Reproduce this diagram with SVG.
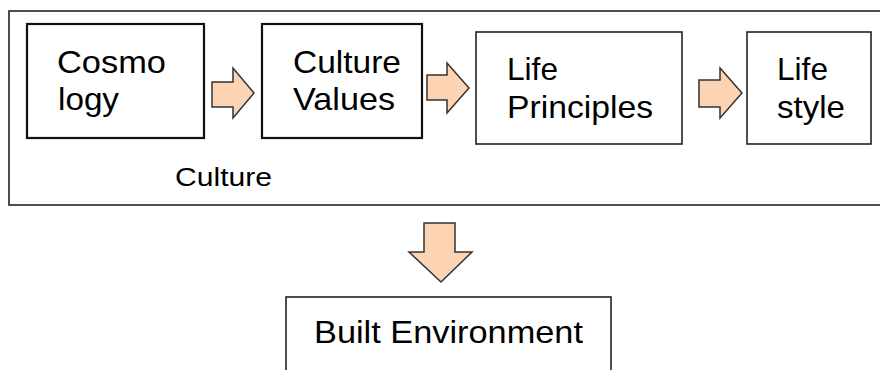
<svg xmlns="http://www.w3.org/2000/svg" width="880" height="370" viewBox="0 0 880 370">
<style>
.box{fill:#fff;stroke:#222;stroke-width:1.6}
.bold{stroke:#111;stroke-width:2.2}
.t{font-family:"Liberation Sans",Arial,sans-serif;font-size:32px;fill:#000}
.s{font-size:26px}
.arr{fill:#FCD3B3;stroke:#333;stroke-width:1.5;stroke-linejoin:miter}
</style>
<rect x="0" y="0" width="880" height="370" fill="#fff"/>
<g id="culture">
<rect class="box" x="9" y="11" width="872" height="194"/>
<text class="t s" x="175" y="186" textLength="97" lengthAdjust="spacingAndGlyphs">Culture</text>
</g>
<g id="cosmology">
<rect class="box bold" x="27" y="24" width="177" height="114"/>
<text class="t" x="57" y="73" textLength="109" lengthAdjust="spacingAndGlyphs">Cosmo</text>
<text class="t" x="58" y="110" textLength="61" lengthAdjust="spacingAndGlyphs">logy</text>
</g>
<g id="culture-values">
<rect class="box bold" x="262" y="24" width="160" height="114"/>
<text class="t" x="293" y="73" textLength="108" lengthAdjust="spacingAndGlyphs">Culture</text>
<text class="t" x="293" y="110" textLength="102" lengthAdjust="spacingAndGlyphs">Values</text>
</g>
<g id="life-principles">
<rect class="box" x="476" y="32" width="206" height="112"/>
<text class="t" x="507" y="80" textLength="51" lengthAdjust="spacingAndGlyphs">Life</text>
<text class="t" x="507" y="118" textLength="146" lengthAdjust="spacingAndGlyphs">Principles</text>
</g>
<g id="life-style">
<rect class="box" x="747" y="32" width="124" height="112"/>
<text class="t" x="777" y="80" textLength="51" lengthAdjust="spacingAndGlyphs">Life</text>
<text class="t" x="777" y="118" textLength="68" lengthAdjust="spacingAndGlyphs">style</text>
</g>
<g id="built-environment">
<rect class="box" x="286" y="297" width="325" height="80"/>
<text class="t" x="314" y="343" textLength="269" lengthAdjust="spacingAndGlyphs">Built Environment</text>
</g>
<g id="connectors">
<polygon class="arr" points="212,82 233,82 233,68 254,93 233,118 233,107 212,107"/>
<polygon class="arr" points="427,75 447,75 447,63 469,88 447,113 447,100 427,100"/>
<polygon class="arr" points="699,80 720,80 720,68 742,93 720,118 720,107 699,107"/>
<polygon class="arr" points="424,223 455,223 455,252 472,252 441,282 409,252 424,252"/>
</g>
</svg>
